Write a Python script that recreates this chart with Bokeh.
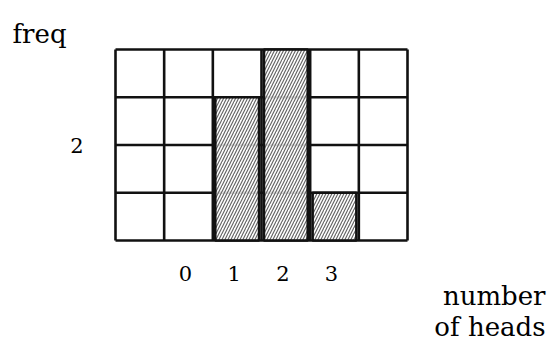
from bokeh.plotting import figure
from bokeh.models import Range1d
from bokeh.core.properties import value
from bokeh.embed import file_html
from bokeh.resources import INLINE

# data
heads = [1, 2, 3]
freq = [3, 4, 1]
x_tick_values = [0, 1, 2, 3]
x_tick_labels = ["0", "1", "2", "3"]
y_tick_values = [2]
y_tick_labels = ["2"]
y_label = "freq"
x_label_lines = ["number", "of heads"]

# grid extents (categories -1..4 shown, counts 0..4)
x_min, x_max = -1.5, 4.5
y_min, y_max = 0, 4

FONT = "DejaVu Serif"
W, H = 553, 343
# pixel layout of the grid box on the canvas
LEFT, RIGHT, TOP, BOTTOM = 115, 407, 49, 240
px_x = (RIGHT - LEFT) / (x_max - x_min)
px_y = (BOTTOM - TOP) / (y_max - y_min)

p = figure(width=W, height=H, output_backend="svg", toolbar_location=None,
           x_range=Range1d(x_min - LEFT / px_x, x_max + (W - RIGHT) / px_x),
           y_range=Range1d(y_min - (H - BOTTOM) / px_y, y_max + TOP / px_y),
           min_border=0)
p.axis.visible = False
p.grid.visible = False
p.outline_line_color = None
p.background_fill_color = "white"
p.border_fill_color = "white"

# grid lines
xs_edges = [x_min + i for i in range(int(x_max - x_min) + 1)]
ys_edges = [y_min + i for i in range(int(y_max - y_min) + 1)]
p.segment(x0=xs_edges, y0=[y_min] * len(xs_edges), x1=xs_edges, y1=[y_max] * len(xs_edges),
          line_color="#111111", line_width=2.6)
p.segment(x0=[x_min] * len(ys_edges), y0=ys_edges, x1=[x_max] * len(ys_edges), y1=ys_edges,
          line_color="#111111", line_width=2.6)

# bars
p.vbar(x=heads, top=freq, bottom=0, width=0.9,
       fill_color="white", fill_alpha=0.85,
       hatch_pattern="/", hatch_color="#666666", hatch_scale=6, hatch_weight=1.2,
       line_color="#111111", line_width=2.6)

# tick labels
p.text(x=x_tick_values, y=[y_min] * len(x_tick_values), text=x_tick_labels,
       x_offset=-3, y_offset=33, text_align="center", text_baseline="alphabetic",
       text_font=value(FONT), text_font_size="21px", text_color="black")
p.text(x=[x_min] * len(y_tick_values), y=y_tick_values, text=y_tick_labels,
       x_offset=-32, y_offset=0, text_align="right", text_baseline="middle",
       text_font=value(FONT), text_font_size="21px", text_color="black")

# axis titles
p.text(x=[x_min], y=[y_max], text=[y_label], x_offset=-103, y_offset=-16,
       text_align="left", text_baseline="alphabetic",
       text_font=value(FONT), text_font_size="26px", text_color="black")
p.text(x=[x_max, x_max], y=[y_min, y_min], text=x_label_lines,
       x_offset=138, y_offset=[55, 86],
       text_align="right", text_baseline="alphabetic",
       text_font=value(FONT), text_font_size="26px", text_color="black")

open("out.html", "w").write(file_html(p, INLINE))
